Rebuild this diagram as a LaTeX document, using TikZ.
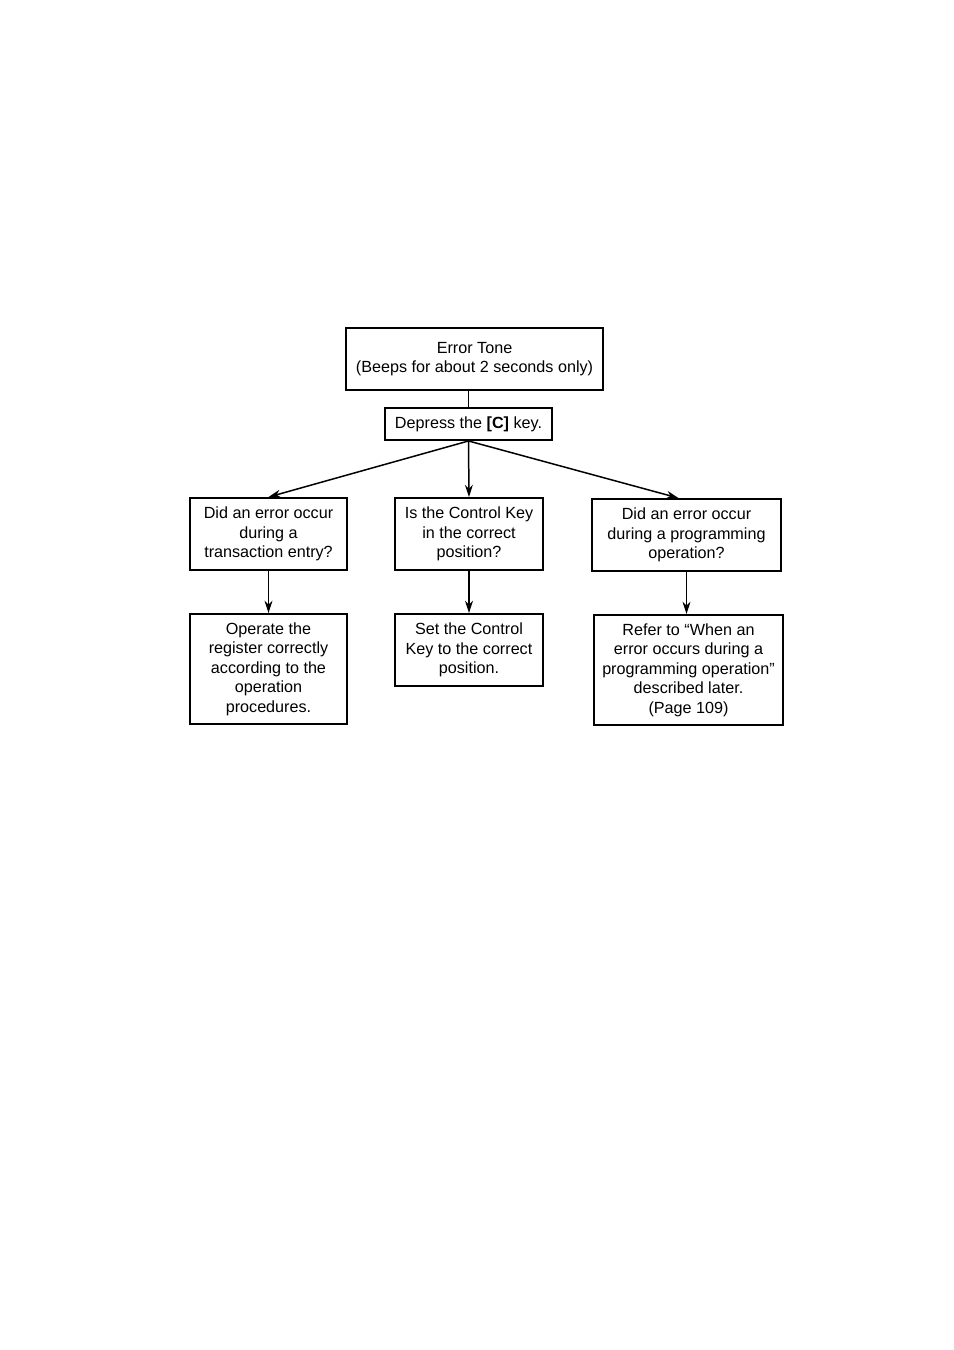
\documentclass[tikz,border=0pt]{standalone}
\usepackage{fontspec}
\setmainfont{Liberation Sans}
\usetikzlibrary{arrows.meta}

\begin{document}
\begin{tikzpicture}[x=0.02cm, y=-0.02cm, font=\fontsize{9.2}{11.1}\selectfont,
		box/.style={draw, line width=1.1pt, align=center, inner sep=0pt},
		link/.style={line width=0.85pt},
		>={Stealth[length=7pt,width=4.5pt]}]
			\useasboundingbox (0,0) rectangle (954,1350);
			
			\node[box, minimum width=5.14cm, minimum height=1.24cm] (tone) at (474.5,359) {Error Tone\\(Beeps for about 2 seconds only)};
			\node[box, minimum width=3.34cm, minimum height=0.64cm] (press) at (468.5,424) {Depress the \textbf{[C]} key.};
			\draw[link] (tone.south -| press.north) -- (press.north);
			
			\node[box, minimum width=3.14cm, minimum height=1.44cm] (q1) at (268.5,534) {Did an error occur\\during a\\transaction entry?};
			\node[box, minimum width=2.96cm, minimum height=1.44cm] (q2) at (469,534) {Is the Control Key\\in the correct\\position?};
			\node[box, minimum width=3.78cm, minimum height=1.44cm] (q3) at (686.5,535) {Did an error occur\\during a programming\\operation?};
			\draw[link, ->] (press.south) -- (q1.north);
			\draw[link, ->] (press.south) -- (q2.north);
			\draw[link, ->] (press.south) -- ([xshift=-0.16cm]q3.north);
			
			\node[box, minimum width=3.14cm, minimum height=2.2cm] (a1) at (268.5,669) {Operate the\\register correctly\\according to the\\operation\\procedures.};
			\node[box, minimum width=2.96cm, minimum height=1.44cm] (a2) at (469,650) {Set the Control\\Key to the correct\\position.};
			\node[box, minimum width=3.78cm, minimum height=2.2cm] (a3) at (688.5,670) {Refer to ``When an\\error occurs during a\\programming operation''\\described later.\\(Page 109)};
			\draw[link, ->] (q1.south) -- (q1.south |- a1.north);
			\draw[link, ->] (q2.south) -- (q2.south |- a2.north);
			\draw[link, ->] (q3.south) -- (q3.south |- a3.north);
		\end{tikzpicture}
\end{document}
